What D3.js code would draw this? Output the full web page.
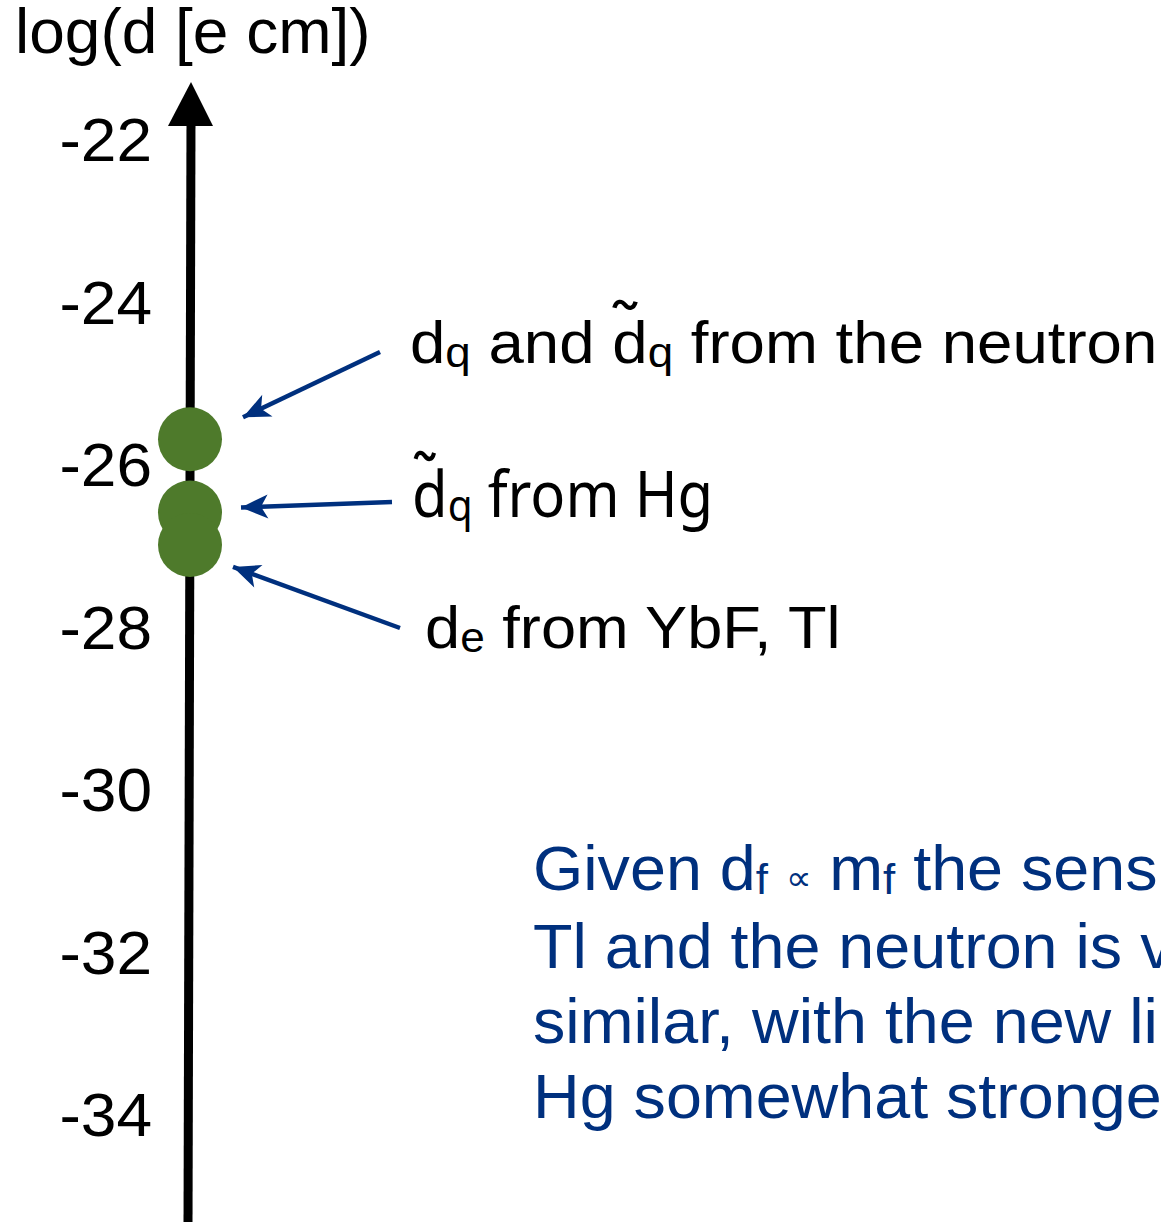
<!DOCTYPE html>
<html>
<head>
<meta charset="utf-8">
<script src="https://cdn.jsdelivr.net/npm/d3@7"></script>
<style>
  html, body { margin: 0; padding: 0; background: #fff; overflow: hidden; }
  text { white-space: pre; }
</style>
</head>
<body>
<svg id="chart" width="1161" height="1222"></svg>
<script>
// Scale of electric dipole moments, log10(d / e·cm)
const axisTitle = "log(d [e cm])";
const tickValues = [-22, -24, -26, -28, -30, -32, -34];

// Current limits (log10 of the EDM bound)
const limitNames = ["neutron", "Hg", "YbF, Tl"];
const limitValues = [-25.7, -26.6, -27.0];

// Annotation texts, split into runs (sub = subscript, tilde = accent over the glyph)
const labelNeutron = [
  { t: "d" }, { t: "q", sub: true }, { t: " and " },
  { t: "d", tilde: true }, { t: "q", sub: true }, { t: " from the neutron" }
];
const labelHg = [{ t: "d", tilde: true }, { t: "q", sub: true }, { t: " from Hg" }];
const labelYbF = [{ t: "d" }, { t: "e", sub: true }, { t: " from YbF, Tl" }];
const noteLines = [
  [{ t: "Given d" }, { t: "f", sub: true }, { t: " " }, { t: "\u221D", small: true }, { t: " m" }, { t: "f", sub: true }, { t: " the sensitivity of YbF," }],
  [{ t: "Tl and the neutron is very" }],
  [{ t: "similar, with the new limit from" }],
  [{ t: "Hg somewhat stronger." }]
];

const W = 1161, H = 1222;
const svg = d3.select("#chart");
const SANS = "'Liberation Sans', Arial, Helvetica, sans-serif";
const GREEN = "#4e7a2b";
const NAVY = "#00307e";

// horizontally stretch a group about a given x
const stretch = (x, sx) => `translate(${x},0) scale(${sx},1) translate(${-x},0)`;

const axisX0 = 188, axisX1 = 191;   // axis drawn very slightly tilted
const y = d3.scaleLinear().domain([-22, -34]).range([138.5, 1114]);

// ---- vertical axis with arrow head ----
svg.append("path")
  .attr("d", d3.line()([[axisX0, H + 5], [axisX1, 118]]))
  .attr("stroke", "#000").attr("stroke-width", 9).attr("fill", "none");
svg.append("path")
  .attr("d", "M" + axisX1 + ",82 L" + (axisX1 - 23) + ",126 L" + (axisX1 + 22) + ",126 Z")
  .attr("fill", "#000");

// tick labels via d3 axis (no domain line, no tick marks)
const axisG = svg.append("g")
  .attr("transform", `translate(${axisX0},0)`)
  .call(d3.axisLeft(y).tickValues(tickValues).tickSize(0).tickPadding(36)
    .tickFormat(d => d3.format("d")(d).replace("\u2212", "-")));
axisG.select(".domain").remove();
axisG.selectAll(".tick text")
  .attr("font-family", SANS).attr("font-size", 61).attr("fill", "#000")
  .attr("dy", "0.36em")
  .attr("transform", `translate(-36,0) scale(1.05,1) translate(36,0)`);

// axis title
svg.append("g").attr("transform", stretch(15, 1.016))
  .append("text")
  .attr("x", 15).attr("y", 53)
  .attr("font-family", SANS).attr("font-size", 63).attr("fill", "#000")
  .text(axisTitle);

// ---- limit markers ----
const cx = d => axisX0 + 2;
svg.append("g").selectAll("circle")
  .data(limitValues)
  .join("circle")
  .attr("cx", cx)
  .attr("cy", d => y(d))
  .attr("r", 32)
  .attr("fill", GREEN);

// ---- annotation arrows ----
const defs = svg.append("defs");
defs.append("marker")
  .attr("id", "head")
  .attr("viewBox", "-28 -13 31 26")
  .attr("refX", 0).attr("refY", 0)
  .attr("markerWidth", 31).attr("markerHeight", 26)
  .attr("markerUnits", "userSpaceOnUse")
  .attr("orient", "auto")
  .append("path")
  .attr("d", "M0,0 L-27,-12 L-20,0 L-27,12 Z")
  .attr("fill", NAVY);

const arrowTails = [[380, 352], [392, 502], [400, 628]];
const tipOffsets = [[53, -22], [51, -5], [43, 22]];
svg.append("g").selectAll("line")
  .data(limitValues)
  .join("line")
  .attr("x1", (d, i) => arrowTails[i][0])
  .attr("y1", (d, i) => arrowTails[i][1])
  .attr("x2", (d, i) => cx(d) + tipOffsets[i][0])
  .attr("y2", (d, i) => y(d) + tipOffsets[i][1])
  .attr("stroke", NAVY).attr("stroke-width", 4.5)
  .attr("marker-end", "url(#head)");

// ---- rich text helper: places runs one after another ----
function rich(g, x, baseline, runs, size, family, fill, subScale = 0.7, smallScale = 0.55) {
  let pos = x;
  runs.forEach(r => {
    const fs = r.sub ? size * subScale : r.small ? size * smallScale : size;
    const dy = r.sub ? size * 0.06 : 0;
    const t = g.append("text")
      .attr("x", pos).attr("y", baseline + dy)
      .attr("font-family", family).attr("font-size", fs).attr("fill", fill)
      .text(r.t);
    const w = t.node().getComputedTextLength();
    if (r.tilde) {
      // wavy accent above the ascender
      const tx = pos + w * 0.36, ty = baseline - size * 0.97;
      g.append("path")
        .attr("d", `M${tx - 10},${ty + 3} C${tx - 8},${ty - 5} ${tx - 3},${ty - 4} ${tx},${ty} S${tx + 8},${ty + 5} ${tx + 10},${ty - 3}`)
        .attr("fill", "none").attr("stroke", fill)
        .attr("stroke-width", size * 0.07).attr("stroke-linecap", "butt");
    }
    pos += w;
  });
  return pos;
}

const labels = svg.append("g");
rich(labels.append("g").attr("transform", stretch(410, 1.06)), 410, 363, labelNeutron, 60, SANS, "#000", 0.72);
rich(labels.append("g").attr("transform", stretch(412, 0.92)), 412, 517, labelHg, 63, "'Noto Sans', " + SANS, "#000", 0.7);
rich(labels.append("g").attr("transform", stretch(425, 1.053)), 425, 648, labelYbF, 60, SANS, "#000", 0.7);

const note = svg.append("g").attr("transform", stretch(533, 1.026));
const noteBaselines = [890, 968, 1043, 1118];
noteLines.forEach((runs, i) => rich(note, 533, noteBaselines[i], runs, 63, SANS, NAVY, 0.68, 0.55));
</script>
</body>
</html>
